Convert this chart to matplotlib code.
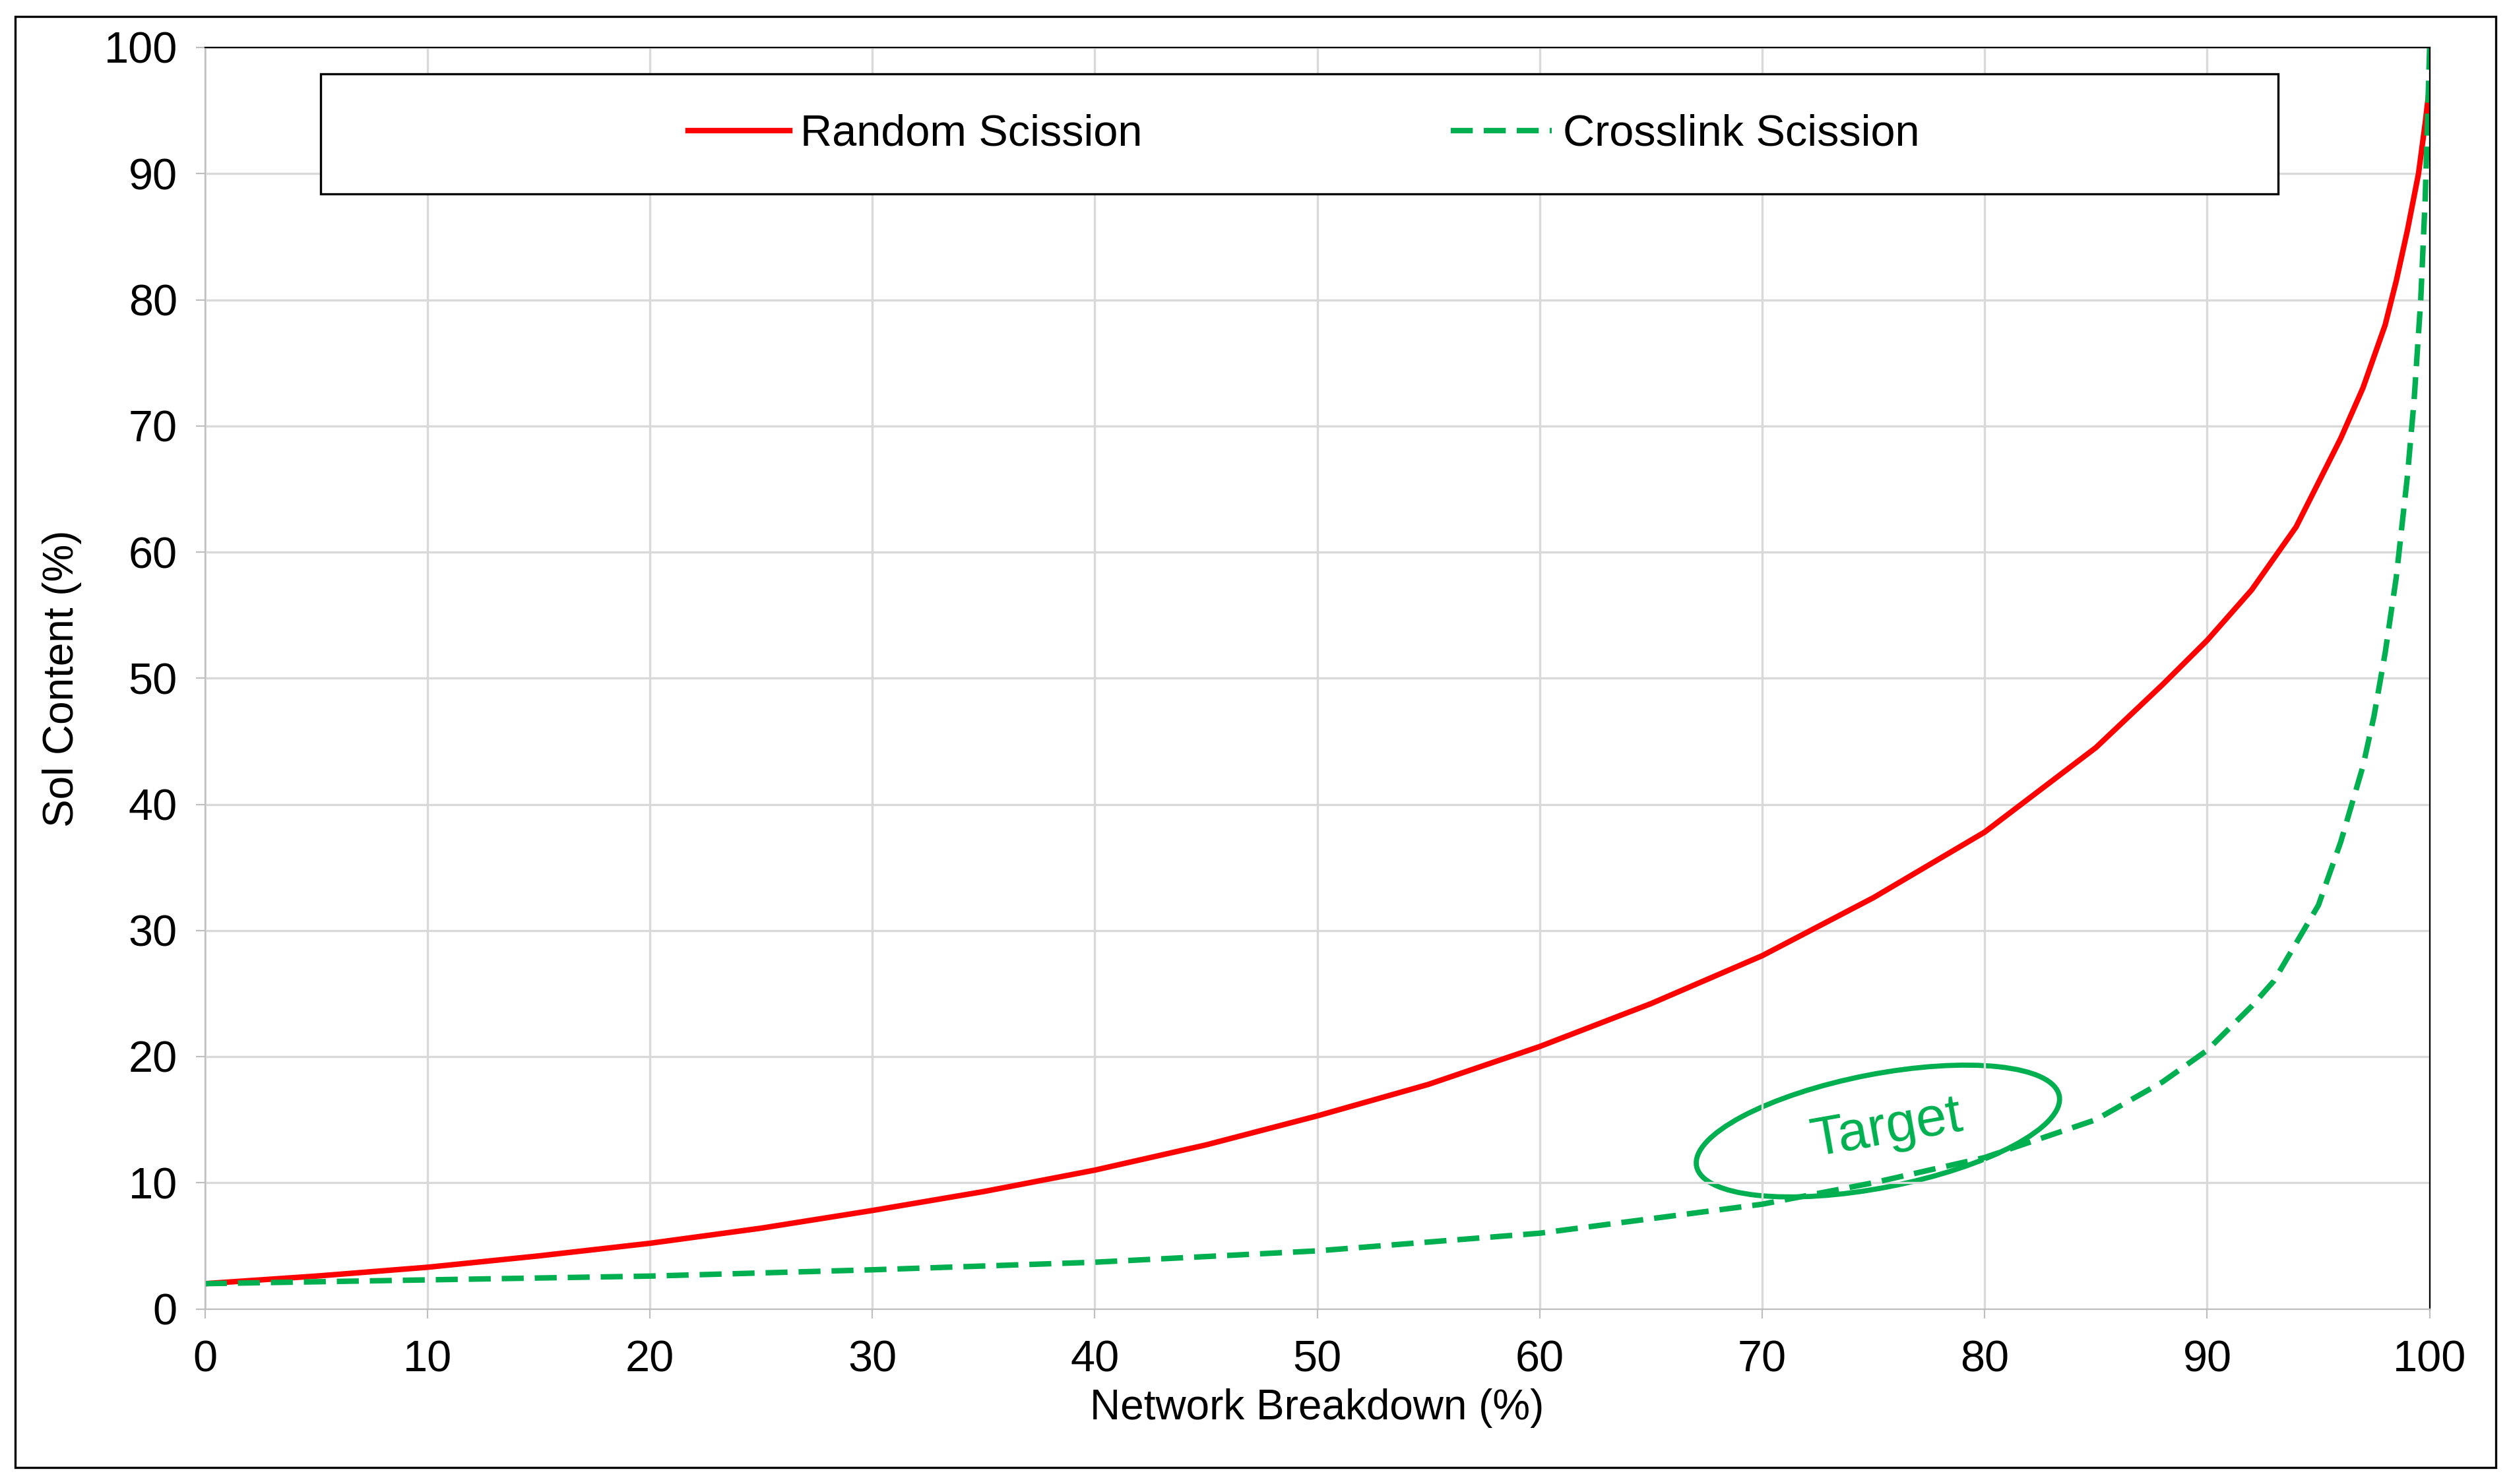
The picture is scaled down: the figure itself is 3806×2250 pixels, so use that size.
import matplotlib.pyplot as plt
from matplotlib.patches import Rectangle, Ellipse
from matplotlib.transforms import ScaledTranslation

plt.rcParams['font.family'] = ['Liberation Sans', 'DejaVu Sans']

# values
rand_x = [0, 5, 10, 15, 20, 25, 30, 35, 40, 45, 50, 55, 60, 65, 70, 75, 80, 85, 88, 90, 92, 94, 95, 96, 97, 98, 98.5, 99, 99.5, 99.8, 100]
rand_y = [2, 2.6, 3.3, 4.2, 5.2, 6.4, 7.8, 9.3, 11, 13, 15.3, 17.8, 20.8, 24.2, 28, 32.6, 37.8, 44.5, 49.5, 53, 57, 62, 65.5, 69, 73, 78, 81.5, 85.5, 90, 94, 97]
cross_x = [0, 10, 20, 30, 40, 50, 60, 70, 75, 80, 85, 88, 90, 92, 93, 94, 95, 96, 97, 97.5, 98, 98.5, 99, 99.3, 99.6, 99.8, 100]
cross_y = [2, 2.3, 2.6, 3.1, 3.7, 4.6, 6, 8.3, 10, 12, 15, 18, 20.5, 24, 26, 29, 32, 37, 43, 47, 52, 58, 66, 72, 80, 88, 100]

fig = plt.figure(figsize=(19.03, 11.25), dpi=200)
ax = fig.add_axes([0.0816, 0.118, 0.886, 0.85])

ax.plot(rand_x, rand_y, color='#FF0000', lw=3, label='Random Scission')
ax.plot(cross_x, cross_y, color='#00B050', lw=3, ls=(0, (4, 2)), label='Crosslink Scission')

ax.set_xlim(0, 100)
ax.set_ylim(0, 100)
ax.set_xticks(range(0, 101, 10))
ax.set_yticks(range(0, 101, 10))
ax.grid(True, color='#D9D9D9', lw=1.2)
ax.tick_params(labelsize=24, length=5, color='#BFBFBF')
ax.tick_params(axis='x', pad=12)
ax.tick_params(axis='y', pad=10)
for s in ['left', 'bottom']:
    ax.spines[s].set_color('#BFBFBF')
for s in ['right', 'top']:
    ax.spines[s].set_color('black')
ax.set_xlabel('Network Breakdown (%)', fontsize=23, labelpad=4)
ax.set_ylabel('Sol Content (%)', fontsize=23, labelpad=12)

# legend box
ax.add_patch(Rectangle((0.052, 0.884), 0.88, 0.095, transform=ax.transAxes,
                       fill=True, fc='white', ec='black', lw=1.2, zorder=4))
leg = ax.legend(loc='center', bbox_to_anchor=(0.494, 0.931), ncol=2, fontsize=24,
                frameon=False, handlelength=2.3, handletextpad=0.25,
                columnspacing=7.0, borderaxespad=0)
leg.set_zorder(5)

# Target ellipse
offs = ScaledTranslation(75.2, 14.1, ax.transData)
ax.add_patch(Ellipse((0, 0), 2.8, 0.86, angle=11, fill=False, ec='#00B050', lw=2.8,
                     transform=fig.dpi_scale_trans + offs))
ax.text(75.6, 14.3, 'Target', fontsize=30, color='#00B050', rotation=10,
        ha='center', va='center')

fig.patches.append(Rectangle((0.006, 0.011), 0.988, 0.978, transform=fig.transFigure,
                             fill=False, ec='black', lw=1.2))

fig.savefig('out.png', dpi=200)
